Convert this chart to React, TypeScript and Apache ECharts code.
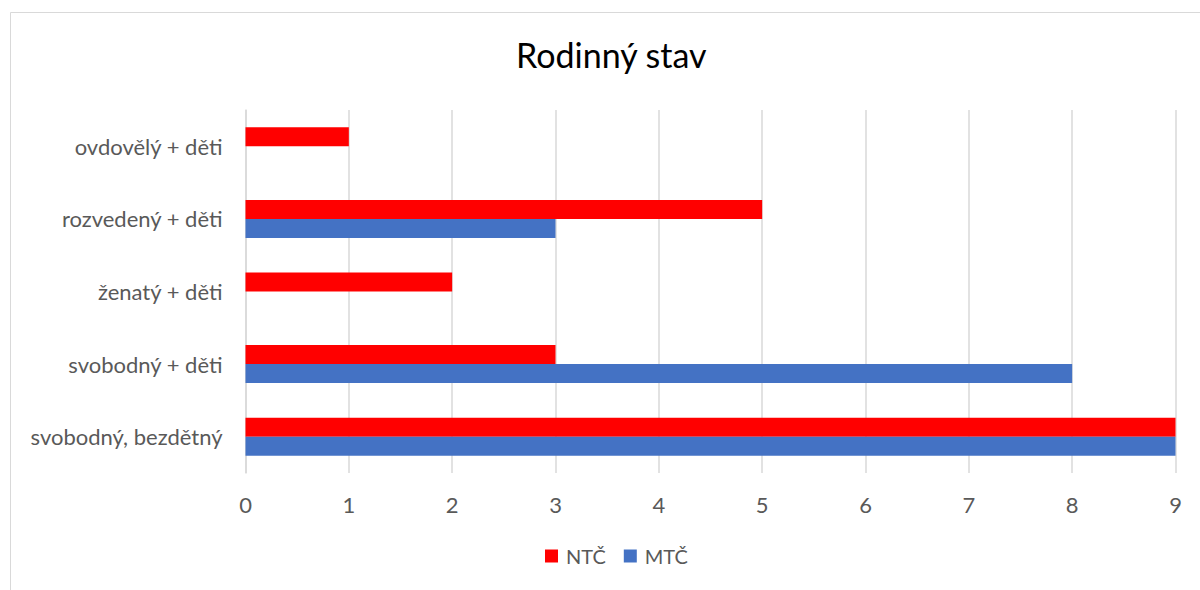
import React, { useEffect, useRef } from "react";
import * as echarts from "echarts";

const categories = [
  "svobodný, bezdětný",
  "svobodný + děti",
  "ženatý + děti",
  "rozvedený + děti",
  "ovdovělý + děti",
];
const ntc = [9, 3, 2, 5, 1];
const mtc = [9, 8, 0, 3, 0];
const seriesNames = ["NTČ", "MTČ"];
const FONT = "Lato, 'Open Sans', sans-serif";

export default function App() {
  const ref = useRef<HTMLDivElement>(null);
  useEffect(() => {
    if (!ref.current) return;
    const chart = echarts.init(ref.current, null, { renderer: "svg" });
    chart.setOption({
      animation: false,
      backgroundColor: "#ffffff",
      textStyle: { fontFamily: FONT },
      title: {
        text: "Rodinný stav",
        left: 516,
        top: 37,
        padding: 0,
        textStyle: { fontFamily: FONT, fontSize: 34, fontWeight: "normal", color: "#000000" },
      },
      graphic: [
        {
          type: "rect",
          shape: { x: 10.5, y: 12.5, width: 1300, height: 700 },
          style: { fill: "none", stroke: "#d9d9d9", lineWidth: 1 },
          silent: true,
        },
      ],
      legend: {
        data: seriesNames,
        bottom: 24,
        left: 545,
        padding: 0,
        icon: "rect",
        itemWidth: 13,
        itemHeight: 13,
        itemGap: 18,
        textStyle: { fontFamily: FONT, fontSize: 20, color: "#595959", padding: [0, 0, 0, 3] },
      },
      grid: { left: 245.5, right: 24.5, top: 110, height: 363, containLabel: false },
      xAxis: {
        type: "value",
        min: 0,
        max: 9,
        interval: 1,
        axisLine: { show: false },
        axisTick: { show: false },
        splitLine: { show: true, lineStyle: { color: "#d9d9d9", width: 1.5 } },
        axisLabel: { fontFamily: FONT, fontSize: 22, color: "#595959", margin: 20 },
      },
      yAxis: {
        type: "category",
        data: categories,
        axisLine: { show: true, lineStyle: { color: "#d9d9d9", width: 1.5 } },
        axisTick: { show: false },
        axisLabel: { fontFamily: FONT, fontSize: 22, color: "#595959", margin: 23 },
      },
      series: [
        {
          name: seriesNames[0],
          type: "bar",
          data: ntc,
          barWidth: 19,
          barGap: "0%",
          itemStyle: { color: "#ff0000" },
        },
        {
          name: seriesNames[1],
          type: "bar",
          data: mtc,
          barWidth: 19,
          barGap: "0%",
          itemStyle: { color: "#4472c4" },
        },
      ],
    });
    return () => chart.dispose();
  }, []);
  return (
    <div
      ref={ref}
      style={{ position: "fixed", left: 0, top: 0, width: 1200, height: 590 }}
    />
  );
}
